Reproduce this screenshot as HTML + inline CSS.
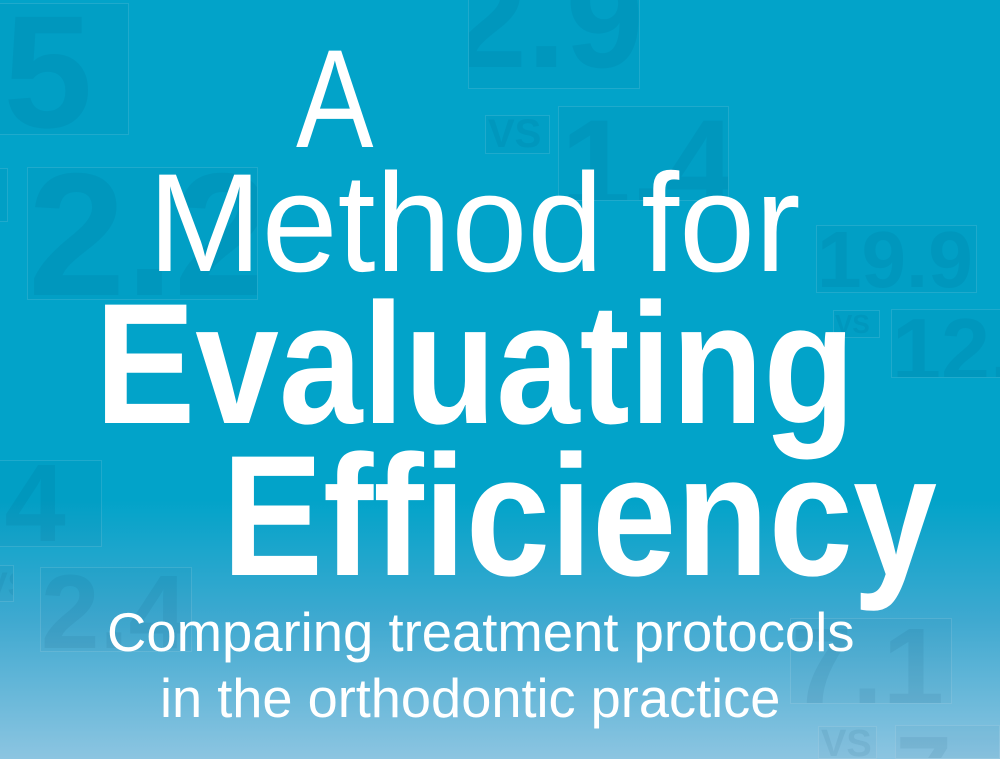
<!DOCTYPE html>
<html><head><meta charset="utf-8"><style>
html{margin:0;padding:0;width:1000px;height:759px;overflow:hidden}
body{margin:0;padding:0;width:1000px;height:759px;overflow:hidden;position:relative;
font-family:"Liberation Sans",sans-serif}
#w{position:absolute;left:0;top:0;width:1000px;height:759px;overflow:hidden;clip-path:inset(0);
background:linear-gradient(to bottom,#02a3c9 0px,#02a3c9 500px,#3fa9d0 620px,#8cc5e1 759px)}
.t{position:absolute;color:#fff;line-height:1;white-space:nowrap;transform-origin:0 0}
.n{position:absolute;border:1px solid rgba(255,255,255,0.12);background:rgba(0,70,110,0.03);overflow:hidden;
color:rgba(0,60,100,0.08);font-weight:bold;line-height:1;white-space:nowrap;font-family:"Liberation Sans",sans-serif}
.n span{position:absolute;display:block}
</style></head><body><div id="w">
<div class="n" style="left:-2px;top:3px;width:129px;height:130px"><span style="left:-40px;top:-12px;font-size:160px">.5</span></div>
<div class="n" style="left:-2px;top:168px;width:8px;height:52px"></div>
<div class="n" style="left:27px;top:167px;width:229px;height:131px"><span style="left:0px;top:-20px;font-size:175px">2.2</span></div>
<div class="n" style="left:468px;top:-2px;width:170px;height:89px"><span style="left:-20px;top:-50px;font-size:140px">2.9</span></div>
<div class="n" style="left:485px;top:115px;width:63px;height:37px"><span style="left:2px;top:-2px;font-size:40px">VS</span></div>
<div class="n" style="left:558px;top:106px;width:169px;height:93px"><span style="left:2px;top:-5px;font-size:125px">1.4</span></div>
<div class="n" style="left:816px;top:225px;width:159px;height:66px"><span style="left:0px;top:-6px;font-size:80px">19.9</span></div>
<div class="n" style="left:833px;top:310px;width:45px;height:26px"><span style="left:1px;top:0px;font-size:26px">VS</span></div>
<div class="n" style="left:891px;top:309px;width:108px;height:67px"><span style="left:0px;top:-4px;font-size:88px">12.</span></div>
<div class="n" style="left:-2px;top:460px;width:102px;height:85px"><span style="left:-25px;top:-12px;font-size:110px">.4</span></div>
<div class="n" style="left:-2px;top:565px;width:14px;height:35px"><span style="left:-14px;top:2px;font-size:34px">VS</span></div>
<div class="n" style="left:40px;top:567px;width:150px;height:83px"><span style="left:0px;top:-8px;font-size:105px">2.4</span></div>
<div class="n" style="left:790px;top:618px;width:160px;height:84px"><span style="left:0px;top:-6px;font-size:110px">7.1</span></div>
<div class="n" style="left:818px;top:726px;width:57px;height:31px"><span style="left:2px;top:-2px;font-size:38px">VS</span></div>
<div class="n" style="left:895px;top:725px;width:103px;height:32px"><span style="left:0px;top:-4px;font-size:100px">7</span></div>

<div class="t" style="left:296px;top:29px;font-size:140px;transform:scaleX(0.83)">A</div>
<div class="t" style="left:148px;top:153px;font-size:140px;transform:scaleX(0.975)">Method for</div>
<div class="t" style="left:95px;top:278px;font-size:172px;font-weight:bold;transform:scaleX(0.874)">Evaluating</div>
<div class="t" style="left:222px;top:430px;font-size:172px;font-weight:bold;transform:scaleX(0.88)">Efficiency</div>
<div class="t" style="left:107px;top:605px;font-size:55px;transform:scaleX(0.99)">Comparing treatment protocols</div>
<div class="t" style="left:160px;top:671px;font-size:55px;transform:scaleX(0.985)">in the orthodontic practice</div>
</div></body></html>
